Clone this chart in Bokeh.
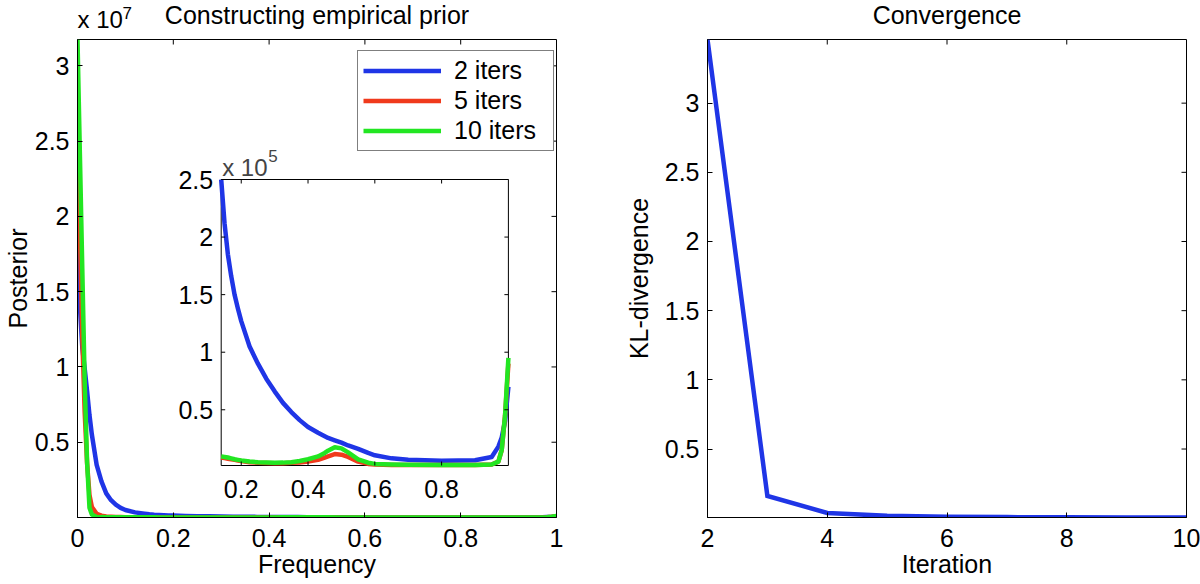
from math import pi
from bokeh.plotting import figure
from bokeh.layouts import row
from bokeh.core.properties import value
from bokeh.models import (Range1d, FixedTicker, Label, LabelSet,
                          ColumnDataSource, Legend, LegendItem, PrintfTickFormatter)
from bokeh.embed import file_html
from bokeh.resources import INLINE

# ---------------- data ----------------
freq = [0, 0.005, 0.01, 0.015, 0.02, 0.025, 0.03,
        0.04, 0.05, 0.06, 0.07, 0.08, 0.09, 0.1,
        0.12, 0.14, 0.15, 0.16, 0.17, 0.18, 0.19, 0.2,
        0.225, 0.25, 0.275, 0.3, 0.325, 0.35, 0.375, 0.4,
        0.43, 0.45, 0.46, 0.48, 0.5,
        0.52, 0.55, 0.58, 0.6, 0.65, 0.7,
        0.8, 0.9, 0.95, 0.97, 0.98, 0.99, 1.0]
# posterior values in units of 1e5
post_2iters = [178, 140, 113, 99, 84, 68, 55,
               35, 24, 16, 11.5, 8.5, 6.4, 5.0,
               3.4, 2.5, 2.12, 1.85, 1.66, 1.5, 1.38, 1.27,
               1.05, 0.9, 0.77, 0.66, 0.56, 0.48, 0.41, 0.35,
               0.3, 0.27, 0.255, 0.235, 0.215,
               0.19, 0.16, 0.125, 0.105, 0.078, 0.066,
               0.058, 0.062, 0.09, 0.18, 0.26, 0.4, 0.7]
post_5iters = [290, 190, 120, 70, 36, 15, 7,
               2.5, 1.2, 0.7, 0.5, 0.35, 0.27, 0.2,
               0.12, 0.085, 0.08, 0.075, 0.07, 0.065, 0.06, 0.055,
               0.045, 0.04, 0.037, 0.035, 0.036, 0.04, 0.043, 0.05,
               0.065, 0.085, 0.095, 0.115, 0.11,
               0.09, 0.05, 0.03, 0.025, 0.02, 0.02,
               0.02, 0.02, 0.025, 0.05, 0.15, 0.45, 0.9]
post_10iters = [317.5, 241, 165, 90, 37, 6.5, 2,
                0.4, 0.25, 0.2, 0.17, 0.15, 0.14, 0.13,
                0.11, 0.095, 0.09, 0.085, 0.078, 0.07, 0.065, 0.06,
                0.05, 0.045, 0.042, 0.04, 0.041, 0.045, 0.055, 0.07,
                0.095, 0.125, 0.145, 0.175, 0.165,
                0.13, 0.07, 0.04, 0.03, 0.025, 0.022,
                0.02, 0.02, 0.025, 0.05, 0.15, 0.45, 0.95]
series_names = ["2 iters", "5 iters", "10 iters"]

iterations = [2, 3, 4, 5, 6, 7, 8, 9, 10]
kl_divergence = [3.46, 0.161, 0.038, 0.017, 0.011, 0.008, 0.006, 0.005, 0.005]

main_xticks = [0, 0.2, 0.4, 0.6, 0.8, 1]
main_xlabels = ["0", "0.2", "0.4", "0.6", "0.8", "1"]
main_yticks = [0.5, 1, 1.5, 2, 2.5, 3]
main_ylabels = ["0.5", "1", "1.5", "2", "2.5", "3"]
inset_xticks = [0.2, 0.4, 0.6, 0.8]
inset_xlabels = ["0.2", "0.4", "0.6", "0.8"]
inset_yticks = [0.5, 1, 1.5, 2, 2.5]
inset_ylabels = ["0.5", "1", "1.5", "2", "2.5"]
kl_xticks = [2, 4, 6, 8, 10]
kl_xlabels = ["2", "4", "6", "8", "10"]
kl_yticks = [0.5, 1, 1.5, 2, 2.5, 3]
kl_ylabels = ["0.5", "1", "1.5", "2", "2.5", "3"]

# ---------------- style / layout ----------------
FONT = "Liberation Sans"
FS = "25px"
COLORS = ["#1f35e6", "#f03a1c", "#22e622"]
LW = 4.5
H = 584
TOP, BOTTOM = 39, 67
FRAME_W = 479
FRAME_H = H - TOP - BOTTOM
W1, LEFT1 = 620, 77
W2, LEFT2 = 580, 87
TICK = 5

MAIN_SCALE = 100.0          # 1e7 / 1e5
main_ymax = max(post_10iters + post_5iters + post_2iters) / MAIN_SCALE
INSET_X = (0.14, 1.0)
INSET_Y = (0.016, 2.5)
IL, IR, IT, IB = 143.7, 430.9, 140.0, 426.0   # inset box in frame pixels


def style_axes(p, xt, xl, yt, yl, xlabel, ylabel, ylabel_standoff):
    for ax, t, l in ((p.xaxis, xt, xl), (p.yaxis, yt, yl)):
        ax.ticker = FixedTicker(ticks=t)
        ax.formatter = PrintfTickFormatter(format="%g")
        ax.major_label_overrides = {k: v for k, v in zip(t, l)}
        ax.major_tick_in = TICK
        ax.major_tick_out = 0
        ax.minor_tick_line_color = None
        ax.axis_line_color = "black"
        ax.major_tick_line_color = "black"
        ax.major_label_text_font = FONT
        ax.major_label_text_font_size = FS
        ax.major_label_text_color = "black"
        ax.axis_label_text_font = FONT
        ax.axis_label_text_font_size = FS
        ax.axis_label_text_font_style = "normal"
        ax.axis_label_text_color = "black"
    p.xaxis.major_label_standoff = 11
    p.yaxis.major_label_standoff = 8
    p.xaxis.axis_label = xlabel
    p.xaxis.axis_label_standoff = 0
    p.yaxis.axis_label = ylabel
    p.yaxis.axis_label_standoff = ylabel_standoff
    p.grid.visible = False
    p.outline_line_color = "black"
    p.background_fill_color = "white"
    p.border_fill_color = "white"
    # mirrored tick marks on the top and right edges of the box
    xr, yr = p.x_range, p.y_range
    p.ray(x=xt, y=[yr.end] * len(xt), length=TICK, length_units="screen", angle=-pi / 2,
          line_color="black", line_width=1)
    p.ray(x=[xr.end] * len(yt), y=yt, length=TICK, length_units="screen", angle=pi,
          line_color="black", line_width=1)


def outer_label(p, place, text, x, y, size=FS, **kw):
    """Label in data coordinates, hosted in a side panel so it is not clipped to the frame."""
    p.add_layout(Label(x=x, y=y, text=text, text_font=FONT, text_font_size=size,
                       text_color="black", text_baseline="middle", **kw), place)


# ---------------- left figure ----------------
p1 = figure(width=W1, height=H, x_range=Range1d(0, 1), y_range=Range1d(0, main_ymax),
            output_backend="svg", toolbar_location=None, title=None,
            min_border_left=LEFT1, min_border_right=W1 - LEFT1 - FRAME_W,
            min_border_top=TOP, min_border_bottom=BOTTOM)

src = ColumnDataSource(dict(
    f=freq,
    s0=[v / MAIN_SCALE for v in post_2iters],
    s1=[v / MAIN_SCALE for v in post_5iters],
    s2=[v / MAIN_SCALE for v in post_10iters],
))
renderers = []
for i in range(3):
    r = p1.line("f", "s%d" % i, source=src, line_color=COLORS[i], line_width=LW,
                line_join="round")
    renderers.append(r)
style_axes(p1, main_xticks, main_xlabels, main_yticks, main_ylabels,
           "Frequency", "Posterior", 0)

# inset (zoom of the same data) drawn through extra ranges
sx = (IR - IL) / (INSET_X[1] - INSET_X[0])
sy = (IB - IT) / (INSET_Y[1] - INSET_Y[0])
ix0 = INSET_X[0] - IL / sx
ix1 = INSET_X[1] + (FRAME_W - IR) / sx
iy1 = INSET_Y[1] + IT / sy
iy0 = INSET_Y[0] - (FRAME_H - IB) / sy
p1.extra_x_ranges = {"ix": Range1d(ix0, ix1)}
p1.extra_y_ranges = {"iy": Range1d(iy0, iy1)}
IK = dict(x_range_name="ix", y_range_name="iy")

p1.quad(left=[INSET_X[0]], right=[INSET_X[1]], bottom=[INSET_Y[0]], top=[INSET_Y[1]],
        fill_color="white", line_color="black", line_width=1, **IK)
keep = [i for i, f in enumerate(freq) if f >= INSET_X[0]]
isrc = ColumnDataSource(dict(
    f=[freq[i] for i in keep],
    s0=[post_2iters[i] for i in keep],
    s1=[post_5iters[i] for i in keep],
    s2=[post_10iters[i] for i in keep],
))
for i in range(3):
    p1.line("f", "s%d" % i, source=isrc, line_color=COLORS[i], line_width=LW,
            line_join="round", **IK)

TL = 4
p1.ray(x=inset_xticks, y=[INSET_Y[0]] * len(inset_xticks), length=TL, length_units="screen",
       angle=pi / 2, line_color="black", line_width=1, **IK)
p1.ray(x=inset_xticks, y=[INSET_Y[1]] * len(inset_xticks), length=TL, length_units="screen",
       angle=-pi / 2, line_color="black", line_width=1, **IK)
p1.ray(x=[INSET_X[0]] * len(inset_yticks), y=inset_yticks, length=TL, length_units="screen",
       angle=0, line_color="black", line_width=1, **IK)
p1.ray(x=[INSET_X[1]] * len(inset_yticks), y=inset_yticks, length=TL, length_units="screen",
       angle=pi, line_color="black", line_width=1, **IK)

p1.add_layout(LabelSet(source=ColumnDataSource(dict(x=inset_xticks, y=[INSET_Y[0]] * len(inset_xticks),
                                                    t=inset_xlabels)),
                       x="x", y="y", text="t", text_align="center", text_baseline="top",
                       y_offset=-14, text_font=value(FONT), text_font_size=value(FS),
                       text_color="black", **IK))
p1.add_layout(LabelSet(source=ColumnDataSource(dict(x=[INSET_X[0]] * len(inset_yticks), y=inset_yticks,
                                                    t=inset_ylabels)),
                       x="x", y="y", text="t", text_align="right", text_baseline="middle",
                       x_offset=-8, text_font=value(FONT), text_font_size=value(FS),
                       text_color="black", **IK))
p1.add_layout(Label(x=INSET_X[0], y=INSET_Y[1], text="x 10", x_offset=1, y_offset=12,
                    text_font=FONT, text_font_size="24px", text_baseline="alphabetic", **IK))
p1.add_layout(Label(x=INSET_X[0], y=INSET_Y[1], text="5", x_offset=47, y_offset=24,
                    text_font=FONT, text_font_size="17px", text_baseline="alphabetic", **IK))

legend = Legend(items=[LegendItem(label=n, renderers=[r]) for n, r in zip(series_names, renderers)],
                location=(280, 366), border_line_color="black", border_line_width=1,
                background_fill_color="white", background_fill_alpha=1,
                label_text_font=FONT, label_text_font_size=FS, label_text_color="black",
                glyph_width=78, glyph_height=29, label_height=29, label_width=94,
                spacing=1, padding=5, label_standoff=13, margin=0)
p1.add_layout(legend)

outer_label(p1, "above", "Constructing empirical prior", 0.5, main_ymax, y_offset=25,
            text_align="center")
outer_label(p1, "right", "x 10", 0, main_ymax, size="24px", y_offset=20)
outer_label(p1, "right", "7", 0, main_ymax, size="17px", x_offset=45, y_offset=27)

# ---------------- right figure ----------------
kl_lo, kl_hi = min(kl_divergence), max(kl_divergence)
p2 = figure(width=W2, height=H, x_range=Range1d(min(iterations), max(iterations)),
            y_range=Range1d(kl_lo, kl_hi),
            output_backend="svg", toolbar_location=None, title=None,
            min_border_left=LEFT2, min_border_right=W2 - LEFT2 - FRAME_W,
            min_border_top=TOP, min_border_bottom=BOTTOM)
p2.line(iterations, kl_divergence, line_color=COLORS[0], line_width=LW, line_join="miter")
style_axes(p2, kl_xticks, kl_xlabels, kl_yticks, kl_ylabels,
           "Iteration", "KL-divergence", 9)

xmid = (min(iterations) + max(iterations)) / 2
outer_label(p2, "above", "Convergence", xmid, kl_hi, y_offset=25, text_align="center")

layout = row(p1, p2)
open("out.html", "w").write(file_html(layout, INLINE))
